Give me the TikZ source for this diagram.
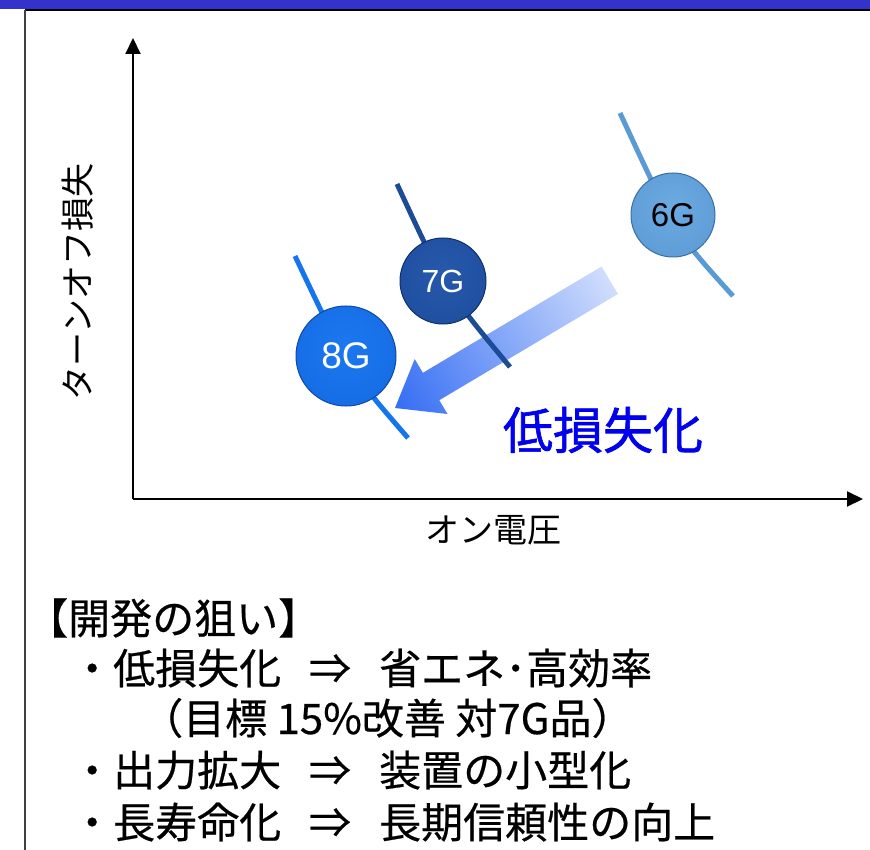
\documentclass[tikz,border=0pt]{standalone}
\usepackage{fontspec}
\setmainfont{Liberation Sans}
\newfontfamily\jp{Noto Sans CJK JP}
\newfontfamily\jpb[FakeBold=1.2]{Noto Sans CJK JP}
\newfontfamily\jpm[FakeBold=0.5]{Noto Sans CJK JP}
\usetikzlibrary{arrows.meta}

\definecolor{band}{HTML}{3333CC}
\definecolor{c6in}{HTML}{6CAAE2}
\definecolor{c6out}{HTML}{4885C4}
\definecolor{c6edge}{HTML}{3A6FA8}
\definecolor{c6line}{HTML}{5B9BD5}
\definecolor{c7in}{HTML}{2659AC}
\definecolor{c7out}{HTML}{153D88}
\definecolor{c7edge}{HTML}{0F2F6A}
\definecolor{c7line}{HTML}{1D4C96}
\definecolor{c8in}{HTML}{1C78F0}
\definecolor{c8out}{HTML}{0A5AD2}
\definecolor{c8edge}{HTML}{0A48A8}
\definecolor{c8line}{HTML}{1475EE}
\definecolor{arrowblue}{HTML}{1F5EF2}
\definecolor{textblue}{HTML}{0000EE}

\pgfdeclareradialshading{sphsix}{\pgfpoint{0bp}{6bp}}{color(0bp)=(c6in); color(36bp)=(c6in!55!c6out); color(50bp)=(c6out)}
\pgfdeclareradialshading{sphseven}{\pgfpoint{0bp}{6bp}}{color(0bp)=(c7in); color(36bp)=(c7in!55!c7out); color(50bp)=(c7out)}
\pgfdeclareradialshading{spheight}{\pgfpoint{0bp}{6bp}}{color(0bp)=(c8in); color(36bp)=(c8in!55!c8out); color(50bp)=(c8out)}
\pgfdeclarehorizontalshading{arrowshade}{100bp}{color(0bp)=(arrowblue); color(15bp)=(arrowblue!92!white); color(100bp)=(white)}

\tikzset{
  axisline/.style={line width=2pt, -{Triangle[length=16pt,width=15pt]}},
  curveline/.style={line width=5pt},
  sphere/.style={circle, shade, line width=1pt, inner sep=0pt},
  bt/.style={font=\jpm\fontsize{42}{42}\selectfont, inner sep=0pt, anchor=base west},
  btarrow/.style={font=\jpm\fontsize{42}{42}\selectfont, inner sep=0pt, anchor=base},
}

\begin{document}
\begin{tikzpicture}[x=1pt,y=-1pt]
\useasboundingbox (0,0) rectangle (870,850);
% frame
\fill[band] (0,0) rectangle (870,9.5);
\draw[line width=2pt] (25,10.5) -- (870,10.5);
\draw[line width=1.5pt, black!75] (25,10) -- (25,850);

% axes
\coordinate (O) at (133,499);
\coordinate (ytip) at (133,38);
\coordinate (xtip) at (863,499);
\draw[axisline] (O) -- (ytip);
\draw[axisline] (O) -- (xtip);
\node[font=\jp\fontsize{34}{34}\selectfont, rotate=90] (ylab) at (78,282) {ターンオフ損失};
\node[font=\jp\fontsize{34}{34}\selectfont] (xlab) at (493,530) {オン電圧};

% gradient arrow
\shade[shading=arrowshade, shading angle=30.76]
  (395,408) -- (447.5,414) -- (439.3,400.2) -- (617.9,294) -- (601.6,266.5)
  -- (422.9,372.8) -- (414.7,359) -- cycle;

% curves
\coordinate (s6a) at (620,113); \coordinate (s6c) at (675,232); \coordinate (s6b) at (733,296);
\coordinate (s7a) at (397,184); \coordinate (s7c) at (446,290); \coordinate (s7b) at (510,367);
\coordinate (s8a) at (295,256); \coordinate (s8c) at (349,370); \coordinate (s8b) at (408,438);
\draw[curveline, c6line] (s6a) .. controls (s6c) .. (s6b);
\draw[curveline, c7line] (s7a) .. controls (s7c) .. (s7b);
\draw[curveline, c8line] (s8a) .. controls (s8c) .. (s8b);

% spheres
\node[sphere, shading=sphsix, draw=c6edge, minimum size=84pt, font=\fontsize{33}{33}\selectfont] (g6) at (673,215) {6G};
\node[sphere, shading=sphseven, draw=c7edge, minimum size=86pt, font=\fontsize{32}{32}\selectfont, text=white] (g7) at (443,281) {7G};
\node[sphere, shading=spheight, draw=c8edge, minimum size=100pt, font=\fontsize{37}{37}\selectfont, text=white] (g8) at (346,356) {8G};

\node[font=\jpb\fontsize{50}{50}\selectfont, text=textblue] (lowloss) at (603,430) {低損失化};

% bottom text
\node[bt] (head) at (26,634) {【開発の狙い】};
\node[bt] (a1) at (71,684) {・低損失化};
\node[btarrow] (a2) at (330,684) {⇒};
\node[bt] (a3) at (379,684) {省エネ･高効率};
\node[bt] (a4) at (141,734) {（目標 15\%改善 対7G品）};
\node[bt] (b1) at (71,786) {・出力拡大};
\node[btarrow] (b2) at (330,786) {⇒};
\node[bt] (b3) at (379,786) {装置の小型化};
\node[bt] (c1) at (71,838) {・長寿命化};
\node[btarrow] (c2) at (330,838) {⇒};
\node[bt] (c3) at (379,838) {長期信頼性の向上};
\end{tikzpicture}
\end{document}
